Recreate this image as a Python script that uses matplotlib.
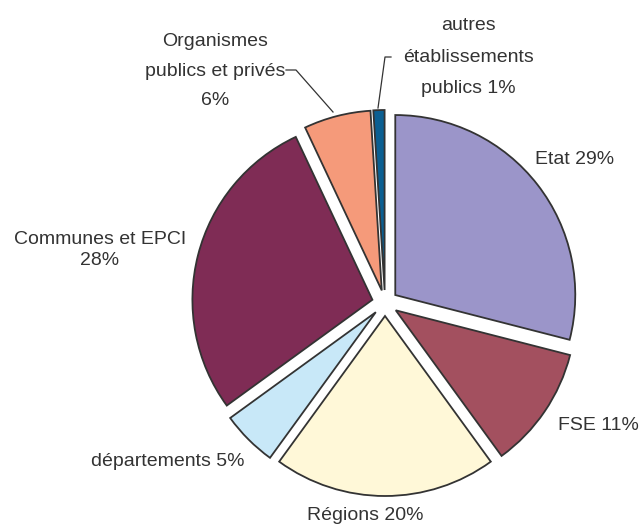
import matplotlib
matplotlib.use("Agg")
import matplotlib.pyplot as plt

labels = ["Etat", "FSE", "Régions", "départements", "Communes et EPCI",
          "Organismes publics et privés", "autres établissements publics"]
values = [29, 11, 20, 5, 28, 6, 1]
colors = ["#9b95c9", "#a3505f", "#fff8d8", "#c8e8f8", "#7f2c55", "#f59a7a", "#0b5f92"]
explode = [13, 13, 13, 13, 13, 13, 13]

plt.rcParams['font.family'] = ['Liberation Sans', 'DejaVu Sans']
fig = plt.figure(figsize=(6.4, 5.27), dpi=100)
ax = fig.add_axes([0, 0, 1, 1])
R = 180
cx, cy = 385, -303
wedges, _ = ax.pie(values, colors=colors, explode=explode, startangle=90,
                   counterclock=False, radius=R, center=(cx, cy),
                   wedgeprops=dict(edgecolor="#333333", linewidth=1.3))
ax.set_xlim(0, 640)
ax.set_ylim(-527, 0)
ax.set_aspect('equal')
ax.axis('off')

tc = "#333333"
fs = 14
ax.text(575, -160, "Etat 29%", ha='center', va='center', fontsize=fs, color=tc)
ax.text(639, -425, "FSE 11%", ha='right', va='center', fontsize=fs, color=tc)
ax.text(365, -515, "Régions 20%", ha='center', va='center', fontsize=fs, color=tc)
ax.text(168, -462, "départements 5%", ha='center', va='center', fontsize=fs, color=tc)
ax.text(100, -250, "Communes et EPCI\n28%", ha='center', va='center', fontsize=fs,
        color=tc, linespacing=1.35)
ax.text(215, -71, "Organismes\npublics et privés\n6%", ha='center', va='center',
        fontsize=fs, color=tc, linespacing=1.98)
ax.text(468, -57, "autres\nétablissements\npublics 1%", ha='center', va='center',
        fontsize=fs, color=tc, linespacing=2.08)

ax.plot([286, 296, 333], [-70, -70, -112], color="#333333", lw=0.9)
ax.plot([391, 385, 378], [-57, -57, -108], color="#333333", lw=0.9)

fig.savefig("out.png", dpi=100)
